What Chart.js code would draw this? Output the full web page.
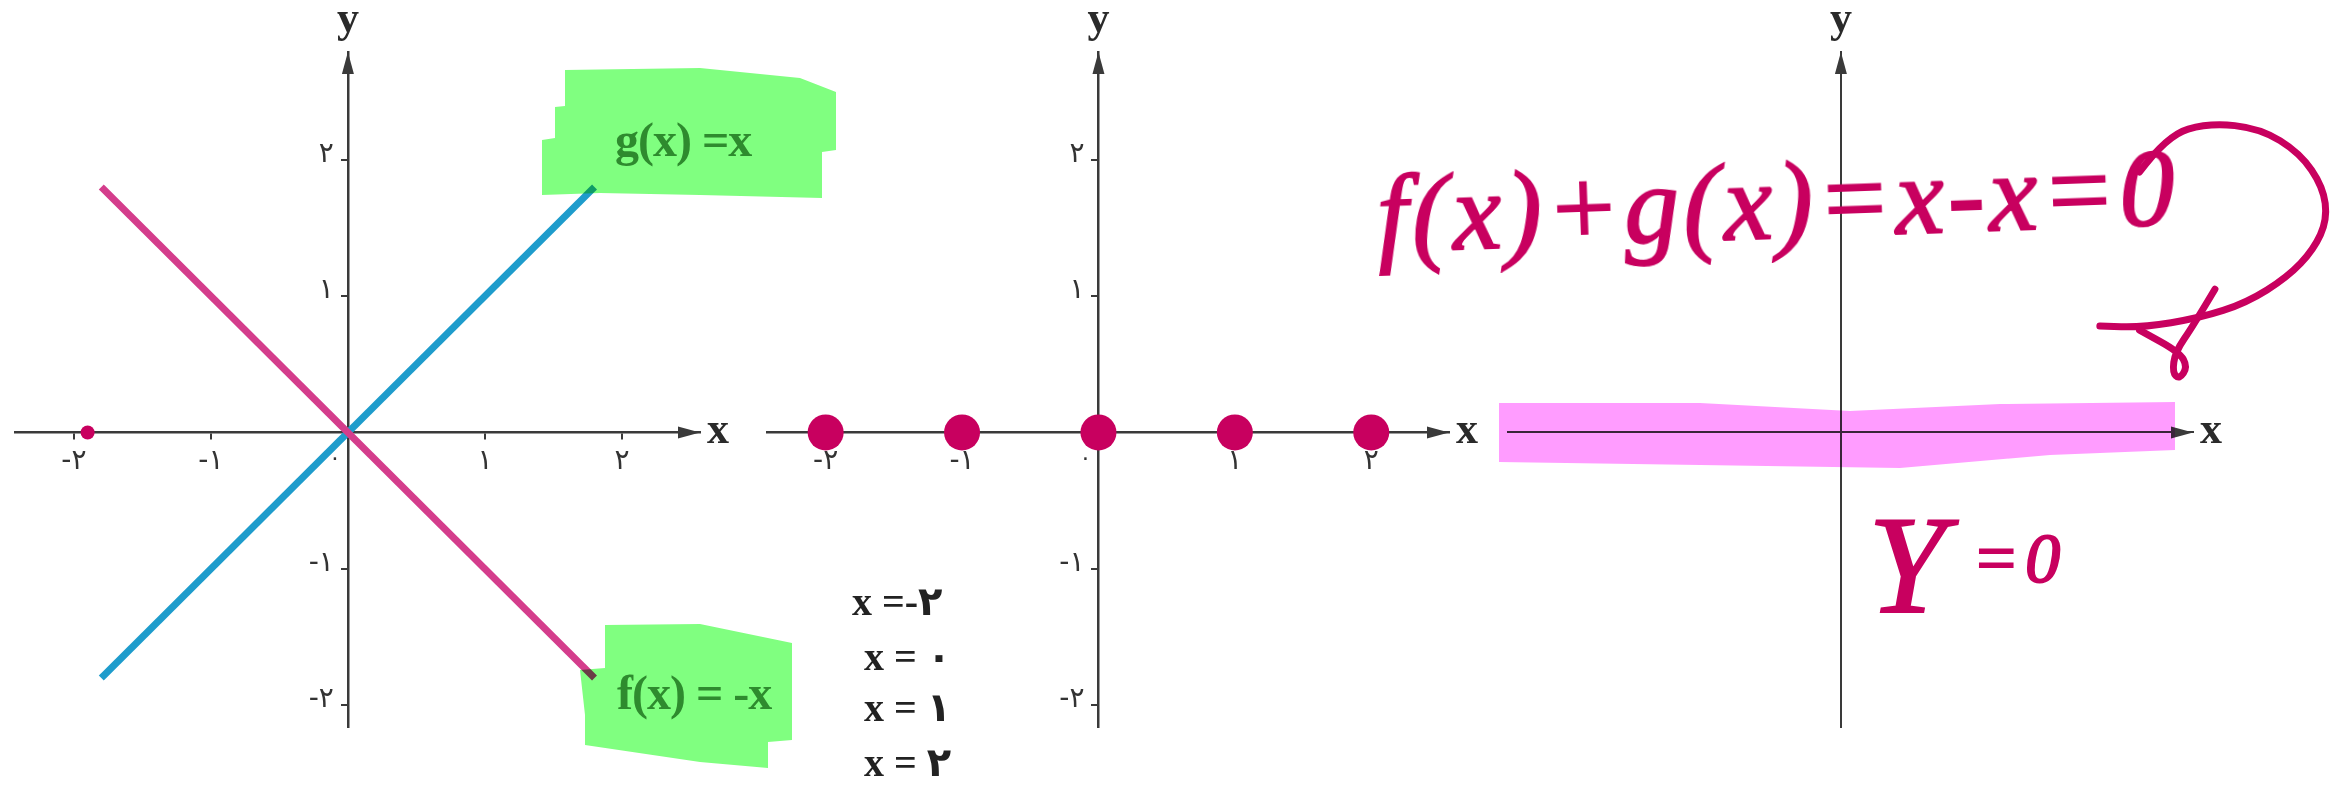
<!DOCTYPE html>
<html>
<head>
<meta charset="utf-8">
<script src="https://cdn.jsdelivr.net/npm/chart.js@4/dist/chart.umd.min.js"></script>
<style>
  body { margin: 0; background: #fff; }
  #stage { position: relative; width: 2339px; height: 786px; overflow: hidden; background: #fff; }
  #stage canvas { position: absolute; top: 0; }
  .hl { position: absolute; mix-blend-mode: multiply; }
  .green { background: #80ff80; }
  .pink { background: #ff9cff; }
  .txt { position: absolute; white-space: nowrap; line-height: 1; }
  .fn { font: bold 48px "Liberation Serif", "DejaVu Sans", serif; color: #2e8b2e; letter-spacing: -1px; }
  .sol { font: bold 40px "Liberation Serif", "DejaVu Sans", serif; color: #222; }
  .hand { font-family: "Liberation Serif", serif; font-style: italic; color: #c8005f; -webkit-text-stroke: 2px #c8005f; }
</style>
</head>
<body>
<div id="stage">
  <canvas id="c1" width="846" height="786" style="left:0"></canvas>
  <canvas id="c2" width="846" height="786" style="left:749px"></canvas>
  <canvas id="c3" width="846" height="786" style="left:1493px"></canvas>

  <!-- highlighter strokes -->
  <div class="hl green" style="left:542px;top:66px;width:294px;height:134px;clip-path:polygon(23px 4px,158px 2px,258px 12px,294px 26px,294px 84px,280px 86px,280px 132px,158px 129px,58px 127px,0 129px,0 74px,13px 72px,13px 41px,23px 40px)"></div>
  <div class="hl green" style="left:580px;top:622px;width:212px;height:148px;clip-path:polygon(25px 3px,120px 2px,212px 21px,212px 118px,188px 120px,188px 146px,120px 140px,5px 123px,5px 93px,0 48px,25px 46px)"></div>
  <div class="hl pink" style="left:1499px;top:401px;width:676px;height:68px;clip-path:polygon(0 2px,201px 2px,351px 10px,501px 3px,676px 1px,676px 49px,551px 54px,401px 67px,201px 64px,0 61px)"></div>

  <div class="txt fn" style="left:615px;top:112px">g(x) =x</div>
  <div class="txt fn" style="left:617px;top:665px">f(x) = -x</div>

  <div class="txt sol" style="left:852px;top:578px">x =-۲</div>
  <div class="txt sol" style="left:864px;top:633px">x = ۰</div>
  <div class="txt sol" style="left:864px;top:684px">x = ۱</div>
  <div class="txt sol" style="left:864px;top:739px">x = ۲</div>

  <div class="txt hand" style="left:1379px;top:160px;font-size:110px;letter-spacing:4px;transform:rotate(-2deg);transform-origin:left bottom">f(x)+g(x)=x-x=0</div>
  <div class="txt hand" style="left:1868px;top:495px;font-size:140px">Y</div>
  <div class="txt hand" style="left:1972px;top:524px;font-size:70px;letter-spacing:6px">=0</div>
</div>

<script>
// axis window shared by the three graphs
var xMin = -2.43, xMax = 2.57;
var yMin = -2.16, yMax = 2.79;
var tickValues = [-2, -1, 1, 2];
var tickLabels = ['-۲', '-۱', '۱', '۲'];

// panel 1: g(x) = x and f(x) = -x
var lineX   = [-1.8, 1.8];
var gValues = [-1.8, 1.8];
var fValues = [1.8, -1.8];
var strayDotX = [-1.9];

// panel 2: marked points on the x axis
var rootsX = [-2, -1, 0, 1, 2];

// panel 3: handwritten loop arrow (in the graph's own units)
var loopStroke = [[2.18,1.91],[2.38,2.18],[2.69,2.27],[3.06,2.23],[3.35,2.05],[3.52,1.80],[3.55,1.56],[3.45,1.34],[3.26,1.14],[2.96,0.95],[2.62,0.84],[2.20,0.77],[1.89,0.78]];
var hookStroke = [[2.73,1.05],[2.57,0.78],[2.44,0.59],[2.42,0.44],[2.47,0.39],[2.53,0.48],[2.47,0.59],[2.18,0.75]];

var AXIS = '#3a3a3a';
var INK  = '#c8005f';
var TICK_FONT = '28px "DejaVu Sans"';

function toXY(xs, ys) {
  return xs.map(function (x, i) { return { x: x, y: ys[i] }; });
}

function strokeSmooth(ctx, chart, pts) {
  var sx = chart.scales.x, sy = chart.scales.y;
  var p = pts.map(function (d) { return [sx.getPixelForValue(d[0]), sy.getPixelForValue(d[1])]; });
  ctx.beginPath();
  ctx.moveTo(p[0][0], p[0][1]);
  for (var i = 1; i < p.length - 1; i++) {
    ctx.quadraticCurveTo(p[i][0], p[i][1], (p[i][0] + p[i + 1][0]) / 2, (p[i][1] + p[i + 1][1]) / 2);
  }
  ctx.lineTo(p[p.length - 1][0], p[p.length - 1][1]);
  ctx.stroke();
}

// arrows, axis names, y tick labels, origin label and the hand strokes
function decor(opts) {
  return {
    id: 'decor',
    afterDraw: function (chart) {
      var ctx = chart.ctx, a = chart.chartArea;
      var sy = chart.scales.y;
      var x0 = chart.scales.x.getPixelForValue(0);
      var y0 = sy.getPixelForValue(0);
      ctx.save();
      ctx.fillStyle = AXIS;
      ctx.beginPath();
      ctx.moveTo(a.right, y0); ctx.lineTo(a.right - 22, y0 - 6); ctx.lineTo(a.right - 22, y0 + 6);
      ctx.closePath(); ctx.fill();
      ctx.beginPath();
      ctx.moveTo(x0, a.top); ctx.lineTo(x0 - 6, a.top + 22); ctx.lineTo(x0 + 6, a.top + 22);
      ctx.closePath(); ctx.fill();

      ctx.fillStyle = '#2a2a2a';
      ctx.font = 'bold 44px "Liberation Serif", serif';
      ctx.textBaseline = 'alphabetic';
      ctx.textAlign = 'left';
      ctx.fillText('x', a.right + 7, y0 + 11);
      ctx.textAlign = 'center';
      ctx.fillText('y', x0, a.top - 20);

      if (opts.ticks) {
        // y labels sit left of the axis (Chart.js puts them on the line for a centred axis)
        ctx.font = TICK_FONT;
        ctx.fillStyle = '#333';
        ctx.textAlign = 'right';
        ctx.textBaseline = 'middle';
        sy.ticks.forEach(function (t) {
          ctx.fillText(tickLabels[tickValues.indexOf(t.value)], x0 - 14, sy.getPixelForValue(t.value) - 5);
        });
        ctx.textAlign = 'center';
        ctx.font = '22px "DejaVu Sans"';
        ctx.fillText('۰', x0 - 13, y0 + 27);
      }
      if (opts.strokes) {
        ctx.strokeStyle = INK;
        ctx.lineWidth = 7;
        ctx.lineCap = 'round';
        ctx.lineJoin = 'round';
        opts.strokes.forEach(function (s) { strokeSmooth(ctx, chart, s); });
      }
      ctx.restore();
    }
  };
}

function axisScale(min, max, where, showTicks, vertical) {
  return {
    type: 'linear',
    min: min,
    max: max,
    position: where,
    afterFit: function (s) { if (vertical) s.width = 0; else s.height = 0; },
    afterBuildTicks: function (s) {
      s.ticks = showTicks ? tickValues.map(function (v) { return { value: v }; }) : [];
    },
    border: { display: true, color: AXIS, width: showTicks ? 2.5 : 2 },
    grid: { display: showTicks, drawOnChartArea: false, drawTicks: true, tickLength: 6, color: AXIS, lineWidth: 2 },
    ticks: {
      display: showTicks && !vertical,
      padding: 6,
      minRotation: 0,
      maxRotation: 0,
      color: '#333',
      font: { family: 'DejaVu Sans', size: 28 },
      callback: function (v) { return tickLabels[tickValues.indexOf(v)]; }
    }
  };
}

function makePanel(id, datasets, showTicks, extra) {
  return new Chart(document.getElementById(id), {
    type: 'scatter',
    data: { datasets: datasets },
    options: {
      responsive: false,
      animation: false,
      devicePixelRatio: 1,
      layout: { padding: { left: 15, right: 146, top: 52, bottom: 59 } },
      plugins: { legend: { display: false }, tooltip: { enabled: false } },
      scales: {
        x: axisScale(xMin, xMax, { y: 0 }, showTicks, false),
        y: axisScale(yMin, yMax, { x: 0 }, showTicks, true)
      }
    },
    plugins: [decor(extra)]
  });
}

makePanel('c1', [
  { data: toXY(strayDotX, [0]), pointRadius: 7, backgroundColor: INK, borderWidth: 0 },
  { data: toXY(lineX, fValues), showLine: true, borderColor: '#d43d8c', borderWidth: 7, pointRadius: 0 },
  { data: toXY(lineX, gValues), showLine: true, borderColor: '#1e9ccc', borderWidth: 7, pointRadius: 0 }
], true, { ticks: true });

makePanel('c2', [
  { data: toXY(rootsX, rootsX.map(function () { return 0; })), pointRadius: 18, backgroundColor: INK, borderWidth: 0 }
], true, { ticks: true });

makePanel('c3', [], false, { strokes: [loopStroke, hookStroke] });
</script>
</body>
</html>
